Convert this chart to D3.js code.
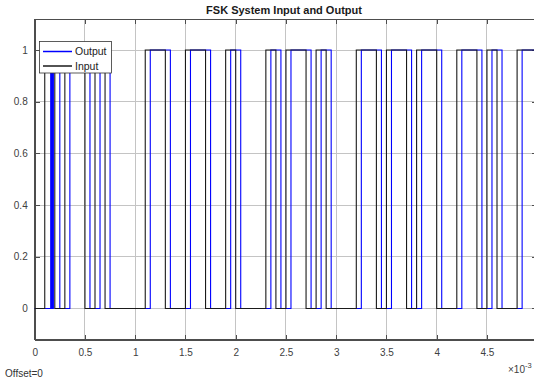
<!DOCTYPE html>
<html>
<head>
<meta charset="utf-8">
<script src="https://cdn.jsdelivr.net/npm/d3@7"></script>
<style>
  body { margin: 0; background: #fff; }
  svg { display: block; }
  text { font-family: "Liberation Sans", Arial, Helvetica, sans-serif; }
</style>
</head>
<body>
<svg id="chart" width="534" height="383"></svg>
<script>
// signal levels start at 0 and flip at each edge time (x10^-3 s)
const inputStart = 0;
const inputEdges = [0.1, 0.2, 0.3, 0.5, 0.6, 0.7, 1.1, 1.3, 1.5, 1.7, 1.9, 2.0,
  2.3, 2.4, 2.5, 2.7, 2.8, 2.9, 3.2, 3.4, 3.5, 3.7, 3.8, 4.0, 4.2, 4.4, 4.5, 4.6, 4.8];

const outputStart = 0;
const outputEdges = [0.159, 0.164, 0.168, 0.173, 0.177, 0.182, 0.186, 0.25, 0.35,
  0.55, 0.65, 0.75, 1.15, 1.35, 1.55, 1.75, 1.95, 2.05, 2.35, 2.45, 2.55, 2.75, 2.85,
  2.95, 3.25, 3.45, 3.55, 3.75, 3.85, 4.05, 4.25, 4.45, 4.55, 4.65, 4.85];

const xTicks = [0, 0.5, 1, 1.5, 2, 2.5, 3, 3.5, 4, 4.5, 5];
const yTicks = [0, 0.2, 0.4, 0.6, 0.8, 1];
const seriesNames = ["Output", "Input"];
const seriesColors = ["#0000ff", "#1a1a1a"];

const svg = d3.select("#chart");
const plotLeft = 34.7, plotRight = 537.2, plotTop = 19, plotBottom = 339.5;

const x = d3.scaleLinear().domain([0, 5]).range([plotLeft, plotRight]);
const y = d3.scaleLinear().domain([-0.12, 1.12]).range([plotBottom, plotTop]);

// title
svg.append("text")
  .attr("x", 284).attr("y", 14)
  .attr("text-anchor", "middle")
  .attr("font-size", 11).attr("font-weight", "bold")
  .attr("fill", "#1a1a1a")
  .text("FSK System Input and Output");

// grid
const grid = svg.append("g").attr("shape-rendering", "crispEdges");
grid.selectAll(".gx").data(xTicks).enter().append("line")
  .attr("x1", d => x(d)).attr("x2", d => x(d))
  .attr("y1", plotTop).attr("y2", plotBottom)
  .attr("stroke", "#c4c4c4");
grid.selectAll(".gy").data(yTicks).enter().append("line")
  .attr("x1", plotLeft).attr("x2", plotRight)
  .attr("y1", d => y(d)).attr("y2", d => y(d))
  .attr("stroke", "#c4c4c4");

// axes with inward ticks
const axisColor = "#4d4d4d";
svg.append("g")
  .attr("transform", "translate(0," + plotBottom + ")")
  .call(d3.axisBottom(x).tickValues(xTicks).tickSizeInner(-5).tickSizeOuter(0).tickPadding(9)
    .tickFormat(d => d === 5 ? "" : d3.format("")(d)));
svg.append("g")
  .attr("transform", "translate(" + plotLeft + ",0)")
  .call(d3.axisLeft(y).tickValues(yTicks).tickSizeInner(-5).tickSizeOuter(0).tickPadding(7)
    .tickFormat(d3.format("")));
svg.append("g")
  .attr("transform", "translate(0," + plotTop + ")")
  .call(d3.axisTop(x).tickValues(xTicks).tickSizeInner(-5).tickSizeOuter(0).tickFormat(""));
svg.append("g")
  .attr("transform", "translate(" + plotRight + ",0)")
  .call(d3.axisRight(y).tickValues(yTicks).tickSizeInner(-5).tickSizeOuter(0).tickFormat(""));

svg.selectAll(".domain").attr("stroke", axisColor).attr("shape-rendering", "crispEdges");
svg.selectAll(".tick line").attr("stroke", axisColor).attr("shape-rendering", "crispEdges");
svg.selectAll(".tick text").attr("fill", "#404040").attr("font-size", 10)
  .attr("font-family", "'Liberation Sans', Arial, sans-serif");

// box
svg.append("rect")
  .attr("x", plotLeft).attr("y", plotTop)
  .attr("width", plotRight - plotLeft).attr("height", plotBottom - plotTop)
  .attr("fill", "none").attr("stroke", axisColor).attr("shape-rendering", "crispEdges");

// signals
function toSteps(start, edges) {
  const pts = [[0, start]];
  let v = start;
  edges.forEach(e => { v = 1 - v; pts.push([e, v]); });
  pts.push([5, v]);
  return pts;
}

const line = d3.line()
  .x(d => x(d[0])).y(d => y(d[1]))
  .curve(d3.curveStepAfter);

svg.append("path")
  .datum(toSteps(outputStart, outputEdges))
  .attr("d", line)
  .attr("fill", "none").attr("stroke", seriesColors[0]).attr("stroke-width", 1.1);
svg.append("path")
  .datum(toSteps(inputStart, inputEdges))
  .attr("d", line)
  .attr("fill", "none").attr("stroke", seriesColors[1]).attr("stroke-width", 1.1);

// legend
const legend = svg.append("g");
legend.append("rect")
  .attr("x", 39.5).attr("y", 41.5).attr("width", 72).attr("height", 31.5)
  .attr("fill", "#fff").attr("stroke", "#333").attr("stroke-width", 0.8);
seriesNames.forEach((name, i) => {
  const ly = 51.5 + i * 14.5;
  legend.append("path")
    .attr("d", "M43," + ly + "H72")
    .style("stroke", seriesColors[i]).style("stroke-width", 1.5).style("fill", "none");
  legend.append("text")
    .attr("x", 75).attr("y", ly + 3.6)
    .attr("font-size", 10.5).attr("fill", "#1a1a1a")
    .text(name);
});

// footer texts
svg.append("text")
  .attr("x", 5).attr("y", 377)
  .attr("font-size", 10).attr("fill", "#333")
  .text("Offset=0");

const expo = svg.append("text")
  .attr("x", 508).attr("y", 373)
  .attr("font-size", 10).attr("fill", "#404040");
expo.append("tspan").text("\u00d710");
expo.append("tspan").attr("dy", -5).attr("font-size", 7.5).text("-3");
</script>
</body>
</html>
